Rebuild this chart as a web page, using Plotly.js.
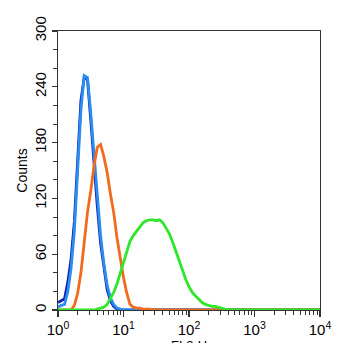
<!DOCTYPE html>
<html>
<head>
<meta charset="utf-8">
<script src="https://cdn.plot.ly/plotly-3.0.1.min.js"></script>
<style>html,body{margin:0;padding:0;background:#fff;}#chart{width:350px;height:343px;}</style>
</head>
<body>
<div id="chart"></div>
<script>
// Channel positions as decade exponents (log10 of FL2-H)
const binExp = [0.00,0.05,0.10,0.15,0.20,0.25,0.30,0.35,0.40,0.45,0.50,0.55,0.60,0.65,0.70,0.75,0.80,0.85,0.90,0.95,
  1.00,1.05,1.10,1.15,1.20,1.25,1.30,1.35,1.40,1.45,1.50,1.55,1.60,1.65,1.70,1.75,1.80,1.85,1.90,1.95,
  2.00,2.05,2.10,2.15,2.20,2.25,2.30,2.35,2.40,2.45,2.50,2.55,2.60,2.65,2.70,4.00];

const navyCounts = [8,10,12,30,55,95,160,225,250,248,205,155,112,72,45,22,10,4,1,0,
  0,0,0,0,0,0,0,0,0,0,0,0,0,0,0,0,0,0,0,0,
  0,0,0,0,0,0,0,0,0,0,0,0,0,0,0,0];
const lightBlueCounts = [3,5,6,20,45,85,150,215,252,250,212,165,120,80,50,27,13,6,2,1,
  0,0,0,0,0,0,0,0,0,0,0,0,0,0,0,0,0,0,0,0,
  0,0,0,0,0,0,0,0,0,0,0,0,0,0,0,0];
const orangeCounts = [0,0,0,0,0,5,18,40,70,105,128,155,175,178,165,148,125,105,78,55,
  35,18,6,3,2,2,1,1,1,0,0,0,0,0,0,0,0,0,0,0,
  0,0,0,0,0,0,0,0,0,0,0,0,0,0,0,0];
const greenCounts = [0,0,0,0,0,0,0,0,0,0,0,0,1,2,3,6,12,19,28,40,
  52,64,74,80,85,90,94,96,97,97,96,97,94,88,82,73,63,52,42,33,
  25,19,15,11,8,6,5,4,4,3,2,1,0,0,0,0];

const xTickVals = [1,10,100,1000,10000];
const xTickText = ['10<sup>0</sup>','10<sup>1</sup>','10<sup>2</sup>','10<sup>3</sup>','10<sup>4</sup>'];
const yTickVals = [0,60,120,180,240,300];
const xMinor = [2,3,4,5,6,7,8,9,20,30,40,50,60,70,80,90,200,300,400,500,600,700,800,900,2000,3000,4000,5000,6000,7000,8000,9000];

const xs = binExp.map(e => Math.pow(10, e));

function tr(y, color){
  return {x: xs, y: y, type:'scatter', mode:'lines', line:{color:color, width:2.8, shape:'linear'}, hoverinfo:'skip'};
}

const data = [
  tr(navyCounts, '#1020b0'),
  tr(lightBlueCounts, '#2a8ef0'),
  tr(orangeCounts, '#f26a1e'),
  tr(greenCounts, '#2ee62a')
];

const layout = {
  width: 350, height: 343,
  margin: {l:58, r:30, t:31, b:33},
  showlegend: false,
  paper_bgcolor:'#fff', plot_bgcolor:'#fff',
  font: {family:'Liberation Sans, Arial, sans-serif', color:'#000', size:13},
  xaxis: {
    type:'log', range:[0,4], showgrid:false, zeroline:false,
    showline:true, linecolor:'#333', linewidth:1.2, mirror:true,
    ticks:'outside', ticklen:6, tickwidth:1.2, tickcolor:'#333',
    tickvals: xTickVals, ticktext: xTickText,
    tickfont:{size:15},
    minor:{tickvals:xMinor, ticks:'outside', ticklen:4, tickwidth:1, tickcolor:'#333'}
  },
  yaxis: {
    range:[0,300], showgrid:false, zeroline:false,
    showline:true, linecolor:'#333', linewidth:1.2, mirror:true,
    ticks:'outside', ticklen:5, tickwidth:1.2, tickcolor:'#333',
    tickvals: yTickVals, tickangle:-90, tickfont:{size:15},
    minor:{dtick:20, ticks:'outside', ticklen:4, tickwidth:1, tickcolor:'#333'},
    title:{text:'Counts', font:{size:14}, standoff:0}
  },
  annotations: [{
    text:'FL2-H', xref:'paper', yref:'paper', x:0.5, y:0, xanchor:'center', yanchor:'top',
    yshift:-26, showarrow:false, font:{size:13, color:'#000'}
  }]
};

Plotly.newPlot('chart', data, layout, {staticPlot:true, displayModeBar:false});
</script>
</body>
</html>
